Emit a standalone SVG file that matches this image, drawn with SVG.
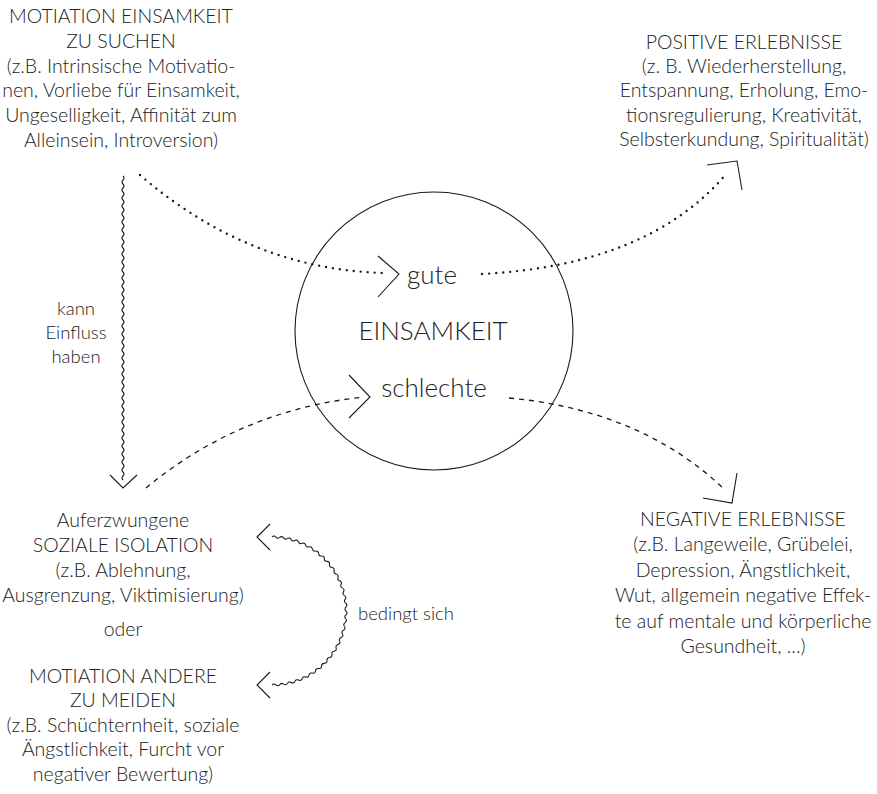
<svg xmlns="http://www.w3.org/2000/svg" xmlns:xlink="http://www.w3.org/1999/xlink" width="877" height="794" viewBox="0 0 877 794">
<style>
text{font-family:"Lato","Open Sans","Liberation Sans",sans-serif;font-weight:300;fill:#222;text-anchor:middle}
.b{font-size:19.5px}
.s{font-size:18.5px}
.big{font-size:26px}
.ln{fill:none;stroke:#1a1a1a;stroke-width:1.1}
.dot{fill:none;stroke:#1a1a1a;stroke-width:2.4;stroke-linecap:round;stroke-dasharray:0 7}
.dash{fill:none;stroke:#1a1a1a;stroke-width:1.3;stroke-dasharray:5 5}
</style>
<defs>
<path id="ws" d="M346,607.13 q2,1.94 0,3.87 q-2,1.94 0,3.87" fill="none" stroke="#1a1a1a" stroke-width="1.1"/>
</defs>
<rect width="877" height="794" fill="#fff"/>

<g id="einsamkeit">
<circle cx="434" cy="331" r="139" class="ln" stroke-width="1.4"/>
<text x="432" y="284" class="big">gute</text>
<text x="433" y="340" class="big">EINSAMKEIT</text>
<text x="434" y="397" class="big">schlechte</text>
</g>

<g id="motivation-einsamkeit">
<text class="b" x="121" y="23">MOTIATION EINSAMKEIT</text>
<text class="b" x="121" y="48">ZU SUCHEN</text>
<text class="b" x="121" y="73">(z.B. Intrinsische Motivatio-</text>
<text class="b" x="121" y="97">nen, Vorliebe für Einsamkeit,</text>
<text class="b" x="121" y="122">Ungeselligkeit, Affinität zum</text>
<text class="b" x="121" y="147">Alleinsein, Introversion)</text>
</g>

<g id="positive">
<text class="b" x="744" y="49">POSITIVE ERLEBNISSE</text>
<text class="b" x="744" y="73">(z. B. Wiederherstellung,</text>
<text class="b" x="744" y="97">Entspannung, Erholung, Emo-</text>
<text class="b" x="744" y="122">tionsregulierung, Kreativität,</text>
<text class="b" x="744" y="146">Selbsterkundung, Spiritualität)</text>
</g>

<g id="negative">
<text class="b" x="743" y="526">NEGATIVE ERLEBNISSE</text>
<text class="b" x="743" y="551">(z.B. Langeweile, Grübelei,</text>
<text class="b" x="743" y="577">Depression, Ängstlichkeit,</text>
<text class="b" x="743" y="602">Wut, allgemein negative Effek-</text>
<text class="b" x="743" y="628">te auf mentale und körperliche</text>
<text class="b" x="743" y="653">Gesundheit, ...)</text>
</g>

<g id="isolation">
<text class="b" x="123" y="527">Auferzwungene</text>
<text class="b" x="123" y="552">SOZIALE ISOLATION</text>
<text class="b" x="123" y="577">(z.B. Ablehnung,</text>
<text class="b" x="123" y="602">Ausgrenzung, Viktimisierung)</text>
<text class="b" x="123" y="636">oder</text>
<text class="b" x="123" y="683">MOTIATION ANDERE</text>
<text class="b" x="123" y="707">ZU MEIDEN</text>
<text class="b" x="123" y="732">(z.B. Schüchternheit, soziale</text>
<text class="b" x="123" y="756">Ängstlichkeit, Furcht vor</text>
<text class="b" x="123" y="781">negativer Bewertung)</text>
</g>

<g id="connectors">
<!-- motivation -> gute (dotted) -->
<path class="dot" d="M140,175 Q250,270 386,273"/>
<path class="ln" d="M378,256 L399,274 L378,297"/>
<!-- gute -> positive (dotted) -->
<path class="dot" d="M482,274 Q650,265 727,173"/>
<path class="ln" d="M707,165 L737,161 L742,190"/>
<!-- isolation -> schlechte (dashed) -->
<path class="dash" d="M146,488 Q240,410 364,397"/>
<path class="ln" d="M349,375 L370,397 L349,418"/>
<!-- schlechte -> negative (dashed) -->
<path class="dash" d="M509,398 Q640,410 723,488"/>
<path class="ln" d="M703,498 L732,503 L737,473"/>
<!-- kann Einfluss haben (wavy vertical) -->
<path class="ln" d="M123,176 q2,2 0,4 q-2,2 0,4 q2,2 0,4 q-2,2 0,4 q2,2 0,4 q-2,2 0,4 q2,2 0,4 q-2,2 0,4 q2,2 0,4 q-2,2 0,4 q2,2 0,4 q-2,2 0,4 q2,2 0,4 q-2,2 0,4 q2,2 0,4 q-2,2 0,4 q2,2 0,4 q-2,2 0,4 q2,2 0,4 q-2,2 0,4 q2,2 0,4 q-2,2 0,4 q2,2 0,4 q-2,2 0,4 q2,2 0,4 q-2,2 0,4 q2,2 0,4 q-2,2 0,4 q2,2 0,4 q-2,2 0,4 q2,2 0,4 q-2,2 0,4 q2,2 0,4 q-2,2 0,4 q2,2 0,4 q-2,2 0,4 q2,2 0,4 q-2,2 0,4 q2,2 0,4 q-2,2 0,4 q2,2 0,4 q-2,2 0,4 q2,2 0,4 q-2,2 0,4 q2,2 0,4 q-2,2 0,4 q2,2 0,4 q-2,2 0,4 q2,2 0,4 q-2,2 0,4 q2,2 0,4 q-2,2 0,4 q2,2 0,4 q-2,2 0,4 q2,2 0,4 q-2,2 0,4 q2,2 0,4 q-2,2 0,4 q2,2 0,4 q-2,2 0,4 q2,2 0,4 q-2,2 0,4 q2,2 0,4 q-2,2 0,4 q2,2 0,4 q-2,2 0,4 q2,2 0,4 q-2,2 0,4 q2,2 0,4 q-2,2 0,4 q2,2 0,4 q-2,2 0,4 q2,2 0,4 q-2,2 0,4 q2,2 0,4 q-2,2 0,4"/>
<path class="ln" d="M110,475 L123,488 L137,475"/>
<!-- bedingt sich (wavy arc) -->
<use xlink:href="#ws" transform="rotate(-87 272 611)"/>
<use xlink:href="#ws" transform="rotate(-81 272 611)"/>
<use xlink:href="#ws" transform="rotate(-75 272 611)"/>
<use xlink:href="#ws" transform="rotate(-69 272 611)"/>
<use xlink:href="#ws" transform="rotate(-63 272 611)"/>
<use xlink:href="#ws" transform="rotate(-57 272 611)"/>
<use xlink:href="#ws" transform="rotate(-51 272 611)"/>
<use xlink:href="#ws" transform="rotate(-45 272 611)"/>
<use xlink:href="#ws" transform="rotate(-39 272 611)"/>
<use xlink:href="#ws" transform="rotate(-33 272 611)"/>
<use xlink:href="#ws" transform="rotate(-27 272 611)"/>
<use xlink:href="#ws" transform="rotate(-21 272 611)"/>
<use xlink:href="#ws" transform="rotate(-15 272 611)"/>
<use xlink:href="#ws" transform="rotate(-9 272 611)"/>
<use xlink:href="#ws" transform="rotate(-3 272 611)"/>
<use xlink:href="#ws" transform="rotate(3 272 611)"/>
<use xlink:href="#ws" transform="rotate(9 272 611)"/>
<use xlink:href="#ws" transform="rotate(15 272 611)"/>
<use xlink:href="#ws" transform="rotate(21 272 611)"/>
<use xlink:href="#ws" transform="rotate(27 272 611)"/>
<use xlink:href="#ws" transform="rotate(33 272 611)"/>
<use xlink:href="#ws" transform="rotate(39 272 611)"/>
<use xlink:href="#ws" transform="rotate(45 272 611)"/>
<use xlink:href="#ws" transform="rotate(51 272 611)"/>
<use xlink:href="#ws" transform="rotate(57 272 611)"/>
<use xlink:href="#ws" transform="rotate(63 272 611)"/>
<use xlink:href="#ws" transform="rotate(69 272 611)"/>
<use xlink:href="#ws" transform="rotate(75 272 611)"/>
<use xlink:href="#ws" transform="rotate(81 272 611)"/>
<use xlink:href="#ws" transform="rotate(87 272 611)"/>
<path class="ln" d="M270,524 L257,537 L270,550"/>
<path class="ln" d="M270,672 L257,685 L270,698"/>
</g>

<g id="labels">
<text class="s" x="76" y="315">kann</text>
<text class="s" x="76" y="339">Einfluss</text>
<text class="s" x="76" y="363">haben</text>
<text class="s" x="406" y="620">bedingt sich</text>
</g>
</svg>
